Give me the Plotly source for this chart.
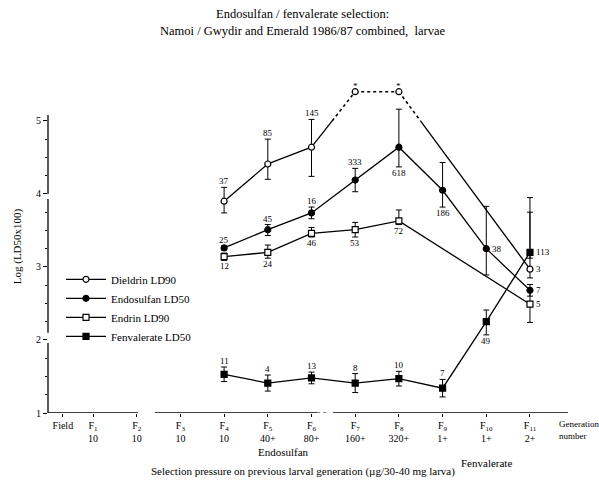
import plotly.graph_objects as go

# ---- data -------------------------------------------------------------
tick_pos = [0.31, 1, 2, 3, 4, 5, 6, 7, 8, 9, 10, 11]
tick_gen = ["Field", "F<sub>1</sub>", "F<sub>2</sub>", "F<sub>3</sub>", "F<sub>4</sub>",
            "F<sub>5</sub>", "F<sub>6</sub>", "F<sub>7</sub>", "F<sub>8</sub>",
            "F<sub>9</sub>", "F<sub>10</sub>", "F<sub>11</sub>"]
tick_dose = ["", "10", "10", "10", "10", "40+", "80+", "160+", "320+", "1+", "1+", "2+"]

gen_x = [4, 5, 6, 7, 8, 9, 10, 11]   # F4 .. F11

dieldrin = [3.90, 4.41, 4.64, 5.40, 5.40, None, None, 2.97]
dieldrin_ep = [0.19, 0.34, 0.38, None, None, None, None, 0.78]
dieldrin_em = [0.16, 0.21, 0.40, None, None, None, None, 0.12]
dieldrin_n = ["37", "85", "145", "*", "*", "", "", "3"]

endosulfan = [3.26, 3.51, 3.74, 4.19, 4.64, 4.05, 3.25, 2.68]
endosulfan_ep = [0.03, 0.07, 0.08, 0.16, 0.52, 0.38, 0.58, 0.08]
endosulfan_em = [0.03, 0.08, 0.08, 0.16, 0.27, 0.23, 0.36, 0.08]
endosulfan_n = ["25", "45", "16", "333", "618", "186", "38", "7"]

endrin = [3.14, 3.20, 3.46, 3.51, 3.63, None, None, 2.49]
endrin_ep = [0.05, 0.10, 0.08, 0.10, 0.15, None, None, 0.19]
endrin_em = [0.05, 0.08, 0.05, 0.10, 0.05, None, None, 0.25]
endrin_n = ["12", "24", "46", "53", "72", "", "", "5"]

fenvalerate = [1.53, 1.41, 1.48, 1.41, 1.47, 1.34, 2.25, 3.20]
fenvalerate_ep = [0.10, 0.11, 0.08, 0.13, 0.10, 0.12, 0.16, 0.75]
fenvalerate_em = [0.10, 0.11, 0.08, 0.13, 0.10, 0.12, 0.18, 0.08]
fenvalerate_n = ["11", "4", "13", "8", "10", "7", "49", "113"]

# where each sample-size label sits relative to its point
dieldrin_lp = ["a", "a", "a", "a", "a", "", "", "r"]
endosulfan_lp = ["a", "a", "a", "a", "b", "b", "r", "r"]
endrin_lp = ["b", "b", "b", "b", "b", "", "", "r"]
fenvalerate_lp = ["a", "a", "a", "a", "a", "a", "b", "r"]

SERIF = "Liberation Serif, Times New Roman, serif"
INK = "#000000"
Y_CLIP = 5.0   # values above the axis top are drawn with a dotted line
LABEL_FONT = dict(family=SERIF, size=9, color=INK)

fig = go.Figure()


def split_at_clip(xs, ys, limit):
    """Split a polyline into the part below `limit` and the part above it."""
    pts = [(x, y) for x, y in zip(xs, ys) if y is not None]
    lo_x, lo_y, hi_x, hi_y = [], [], [], []
    for (x0, y0), (x1, y1) in zip(pts[:-1], pts[1:]):
        if y0 <= limit and y1 <= limit:
            lo_x += [x0, x1, None]; lo_y += [y0, y1, None]
        elif y0 > limit and y1 > limit:
            hi_x += [x0, x1, None]; hi_y += [y0, y1, None]
        else:
            t = (limit - y0) / (y1 - y0)
            xc = x0 + t * (x1 - x0)
            if y0 <= limit:
                lo_x += [x0, xc, None]; lo_y += [y0, limit, None]
                hi_x += [xc, x1, None]; hi_y += [limit, y1, None]
            else:
                hi_x += [x0, xc, None]; hi_y += [y0, limit, None]
                lo_x += [xc, x1, None]; lo_y += [limit, y1, None]
    return lo_x, lo_y, hi_x, hi_y


def err(plus, minus):
    return dict(type="data", symmetric=False, array=plus, arrayminus=minus,
                color=INK, thickness=1, width=3)


def add_series(name, ys, ep, em, symbol, fill, clip=False):
    line = dict(color=INK, width=1.3)
    if clip:
        lo_x, lo_y, hi_x, hi_y = split_at_clip(gen_x, ys, Y_CLIP)
        fig.add_trace(go.Scatter(x=lo_x, y=lo_y, mode="lines", line=line,
                                 showlegend=False, hoverinfo="skip"))
        fig.add_trace(go.Scatter(x=hi_x, y=hi_y, mode="lines",
                                 line=dict(color=INK, width=1.6, dash="dot"),
                                 showlegend=False, hoverinfo="skip"))
    else:
        fig.add_trace(go.Scatter(x=gen_x, y=ys, mode="lines", line=line,
                                 connectgaps=True, showlegend=False, hoverinfo="skip"))
    marker = dict(symbol=symbol, size=6, color=fill, line=dict(color=INK, width=1.2))
    fig.add_trace(go.Scatter(x=gen_x, y=ys, mode="markers", marker=marker,
                             error_y=err(ep, em), showlegend=False, name=name))
    # legend sample
    fig.add_trace(go.Scatter(x=[None], y=[None], mode="lines+markers", name=name,
                             line=line, marker=marker))


def add_labels(ys, ep, em, labels, where):
    for x, y, p, m, t, w in zip(gen_x, ys, ep, em, labels, where):
        if y is None or not t:
            continue
        if w == "a":
            fig.add_annotation(x=x, y=y + (p or 0), text=t, showarrow=False,
                               yanchor="bottom", yshift=-1, font=LABEL_FONT)
        elif w == "b":
            fig.add_annotation(x=x, y=y - (m or 0), text=t, showarrow=False,
                               yanchor="top", yshift=1, font=LABEL_FONT)
        else:
            fig.add_annotation(x=x, y=y, text=t, showarrow=False,
                               xanchor="left", xshift=4, font=LABEL_FONT)


add_series("Dieldrin LD90", dieldrin, dieldrin_ep, dieldrin_em, "circle", "white", clip=True)
add_series("Endosulfan LD50", endosulfan, endosulfan_ep, endosulfan_em, "circle", INK)
add_series("Endrin LD90", endrin, endrin_ep, endrin_em, "square", "white")
add_series("Fenvalerate LD50", fenvalerate, fenvalerate_ep, fenvalerate_em, "square", INK)

add_labels(dieldrin, dieldrin_ep, dieldrin_em, dieldrin_n, dieldrin_lp)
add_labels(endosulfan, endosulfan_ep, endosulfan_em, endosulfan_n, endosulfan_lp)
add_labels(endrin, endrin_ep, endrin_em, endrin_n, endrin_lp)
add_labels(fenvalerate, fenvalerate_ep, fenvalerate_em, fenvalerate_n, fenvalerate_lp)

# broken axis lines
axis_line = dict(color=INK, width=1.3)
for x0, x1 in [(-0.03, 2.03), (2.42, 6.13), (6.49, 11.87)]:
    fig.add_shape(type="line", xref="x", yref="y", x0=x0, x1=x1, y0=1, y1=1, line=axis_line)
for y0, y1 in [(1, 1.96), (2.1, 3.93), (4.0, 5.08)]:
    fig.add_shape(type="line", xref="paper", yref="y", x0=0, x1=0, y0=y0, y1=y1, line=axis_line)
fig.add_shape(type="line", xref="x", yref="y", x0=6.13, x1=6.4, y0=1, y1=1,
              line=dict(color=INK, width=1, dash="dot"))

tick_text = [g if not d else f"{g}<br>{d}" for g, d in zip(tick_gen, tick_dose)]

fig.update_layout(
    width=599, height=481,
    margin=dict(l=48, r=31, t=80, b=68),
    paper_bgcolor="white", plot_bgcolor="white",
    font=dict(family=SERIF, size=9, color=INK),
    showlegend=True,
    legend=dict(x=0.025, y=0.445, xanchor="left", yanchor="top",
                bgcolor="rgba(0,0,0,0)", tracegroupgap=0,
                font=dict(family=SERIF, size=11, color=INK), itemwidth=40),
    xaxis=dict(range=[-0.03, 11.87], showgrid=False, zeroline=False, showline=False,
               tickmode="array", tickvals=tick_pos, ticktext=tick_text,
               ticks="outside", ticklen=3, tickcolor=INK, tickwidth=1,
               tickfont=dict(family=SERIF, size=10, color=INK)),
    yaxis=dict(range=[1, 5.56], showgrid=False, zeroline=False, showline=False,
               tickmode="array", tickvals=[1, 2, 3, 4, 5], ticktext=["1", "2", "3", "4", "5"],
               ticks="outside", ticklen=4, tickcolor=INK, tickwidth=1,
               minor=dict(tickmode="array", tickvals=[1.25, 1.5, 1.75, 2.25, 2.5, 2.75, 3.25, 3.5,
                                                      3.75, 4.25, 4.5, 4.75],
                          ticks="outside", ticklen=2, tickcolor=INK),
               tickfont=dict(family=SERIF, size=10, color=INK),
               title=dict(text="Log (LD50x100)", standoff=12,
                          font=dict(family=SERIF, size=11, color=INK))),
)

TITLE_FONT = dict(family=SERIF, size=12.5, color=INK)
fig.add_annotation(x=0.49, y=1.198, xref="paper", yref="paper", yanchor="middle",
                   text="Endosulfan / fenvalerate selection:", showarrow=False, font=TITLE_FONT)
fig.add_annotation(x=0.49, y=1.147, xref="paper", yref="paper", yanchor="middle",
                   text="Namoi / Gwydir and Emerald 1986/87 combined,  larvae",
                   showarrow=False, font=TITLE_FONT)

fig.add_annotation(x=5.35, y=-0.117, xref="x", yref="paper", yanchor="middle",
                   text="Endosulfan", showarrow=False, font=dict(family=SERIF, size=11, color=INK))
fig.add_annotation(x=10.0, y=-0.15, xref="x", yref="paper", yanchor="middle",
                   text="Fenvalerate", showarrow=False, font=dict(family=SERIF, size=11, color=INK))
fig.add_annotation(x=0.49, y=-0.177, xref="paper", yref="paper", yanchor="middle",
                   text="Selection pressure on previous larval generation (\u00b5g/30-40 mg larva)",
                   showarrow=False, font=dict(family=SERIF, size=11, color=INK))
fig.add_annotation(x=0.979, y=-0.052, xref="paper", yref="paper", xanchor="left", yanchor="middle",
                   text="Generation<br>number", align="left",
                   showarrow=False, font=dict(family=SERIF, size=9, color=INK))

fig.write_html("out.html")
